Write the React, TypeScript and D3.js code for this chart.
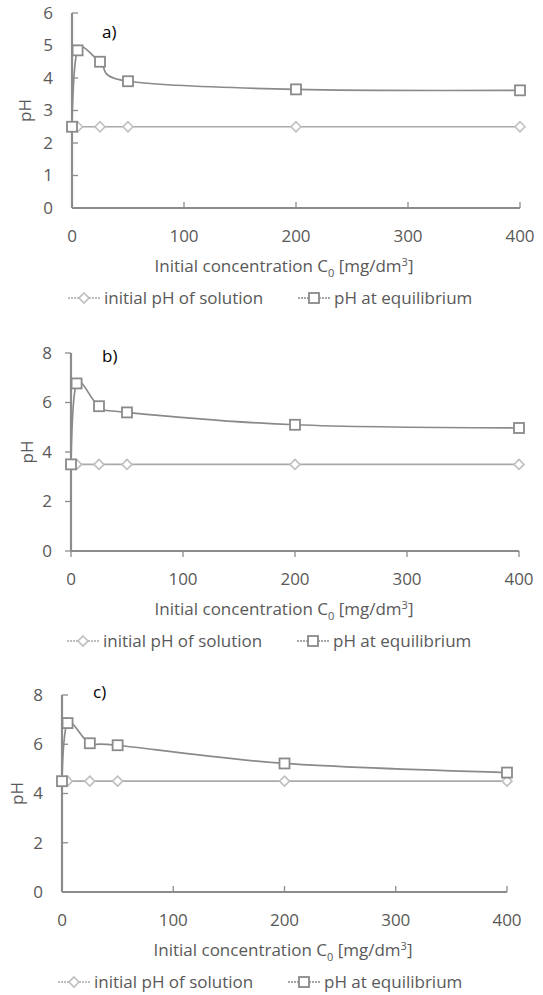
import * as d3 from "d3";

const conc = [0, 5, 25, 50, 200, 400];
const initialA = [2.5, 2.5, 2.5, 2.5, 2.5, 2.5];
const equilA = [2.5, 4.85, 4.5, 3.9, 3.65, 3.62];
const initialB = [3.5, 3.5, 3.5, 3.5, 3.5, 3.5];
const equilB = [3.5, 6.77, 5.85, 5.6, 5.1, 4.97];
const initialC = [4.5, 4.5, 4.5, 4.5, 4.5, 4.5];
const equilC = [4.5, 6.86, 6.04, 5.96, 5.22, 4.85];

const xTicks = [0, 100, 200, 300, 400];
const yTicksA = [0, 1, 2, 3, 4, 5, 6];
const yTicksBC = [0, 2, 4, 6, 8];
const seriesNames = ["initial pH of solution", "pH at equilibrium"];

const TEXT = "#595959";
const AXIS = "#8c8c8c";
const EQ = "#8a8a8a";
const INIT = "#a9a9a9";
const DIAMOND = "#bfbfbf";
const FONT = "'Open Sans', sans-serif";

// layout of the three stacked panels
const panels = [
  { tag: "a)", init: initialA, eq: equilA, yMax: 6, yTicks: yTicksA, top: 13, bottom: 208, left: 72, right: 520, tickIn: true, tagX: 102, tagY: 32, phX: 25, titleX: 284 },
  { tag: "b)", init: initialB, eq: equilB, yMax: 8, yTicks: yTicksBC, top: 353, bottom: 551, left: 71, right: 519, tickIn: false, tagX: 102, tagY: 356, phX: 27, titleX: 284 },
  { tag: "c)", init: initialC, eq: equilC, yMax: 8, yTicks: yTicksBC, top: 695, bottom: 892, left: 62, right: 507, tickIn: true, tagX: 93, tagY: 692, phX: 17, titleX: 283 },
];

function Square({ x, y }: { x: number; y: number }) {
  return <rect x={x - 5} y={y - 5} width={10} height={10} fill="#fff" stroke={EQ} strokeWidth={1.8} />;
}

function Diamond({ x, y }: { x: number; y: number }) {
  return <path d={`M${x},${y - 5}L${x + 5},${y}L${x},${y + 5}L${x - 5},${y}Z`} fill="#fff" stroke={DIAMOND} strokeWidth={1.6} />;
}

function Panel({ p }: { p: (typeof panels)[number] }) {
  const x = d3.scaleLinear().domain([0, 400]).range([p.left, p.right]);
  const y = d3.scaleLinear().domain([0, p.yMax]).range([p.bottom, p.top]);
  const line = d3
    .line<number>()
    .x((_, i) => x(conc[i]))
    .y((d) => y(d))
    .curve(d3.curveCardinal.tension(0));
  const t = p.tickIn ? 6 : -6;
  const legY = p.bottom + 90;
  const legX = p.left - 4;
  return (
    <g>
      {/* axes */}
      <line x1={x(0)} x2={x(0)} y1={y(p.yMax)} y2={y(0)} stroke={AXIS} strokeWidth={2.2} />
      <line x1={x(0)} x2={x(400)} y1={y(0)} y2={y(0)} stroke={AXIS} strokeWidth={2.2} />
      {p.yTicks.map((v) => (
        <g key={"y" + v}>
          <line x1={x(0)} x2={x(0) + t} y1={y(v)} y2={y(v)} stroke={AXIS} strokeWidth={1.3} />
          <text x={x(0) - 19} y={y(v)} dy="0.35em" textAnchor="end" fontSize={17} fill={TEXT}>{v}</text>
        </g>
      ))}
      {xTicks.map((v) => (
        <g key={"x" + v}>
          <line x1={x(v)} x2={x(v)} y1={y(0)} y2={y(0) - t} stroke={AXIS} strokeWidth={1.3} />
          <text x={x(v)} y={y(0) + 28} dy="0.35em" textAnchor="middle" fontSize={17} fill={TEXT}>{v}</text>
        </g>
      ))}
      <text transform={`translate(${p.phX},${(p.top + p.bottom) / 2}) rotate(-90)`} dy="0.35em" textAnchor="middle" fontSize={17} fill={TEXT}>pH</text>
      <text x={p.titleX} y={p.bottom + 58} dy="0.35em" textAnchor="middle" fontSize={17} fill={TEXT}>
        Initial concentration C<tspan fontSize={11} dy="5">0</tspan>
        <tspan dy="-5"> [mg/dm</tspan><tspan fontSize={11} dy="-6">3</tspan><tspan dy="6">]</tspan>
      </text>
      <text x={p.tagX} y={p.tagY} dy="0.35em" fontSize={17} fill="#000">{p.tag}</text>

      {/* series */}
      <path d={line(p.init) ?? ""} fill="none" stroke={INIT} strokeWidth={1.7} />
      <path d={line(p.eq) ?? ""} fill="none" stroke={EQ} strokeWidth={1.7} />
      {p.init.map((v, i) => <Diamond key={"d" + i} x={x(conc[i])} y={y(v)} />)}
      {p.eq.map((v, i) => <Square key={"s" + i} x={x(conc[i])} y={y(v)} />)}

      {/* legend */}
      <line x1={legX} x2={legX + 32} y1={legY} y2={legY} stroke={INIT} strokeWidth={1.5} strokeDasharray="2 1" />
      <Diamond x={legX + 16} y={legY} />
      <text x={legX + 36} y={legY} dy="0.35em" fontSize={17} fill={TEXT}>{seriesNames[0]}</text>
      <line x1={legX + 230} x2={legX + 262} y1={legY} y2={legY} stroke={EQ} strokeWidth={1.5} strokeDasharray="2 1" />
      <Square x={legX + 246} y={legY} />
      <text x={legX + 266} y={legY} dy="0.35em" fontSize={17} fill={TEXT}>{seriesNames[1]}</text>
    </g>
  );
}

export default function App() {
  return (
    <svg width={543} height={995} style={{ position: "absolute", left: 0, top: 0, background: "#fff" }} fontFamily={FONT}>
      {panels.map((p) => <Panel key={p.tag} p={p} />)}
    </svg>
  );
}
